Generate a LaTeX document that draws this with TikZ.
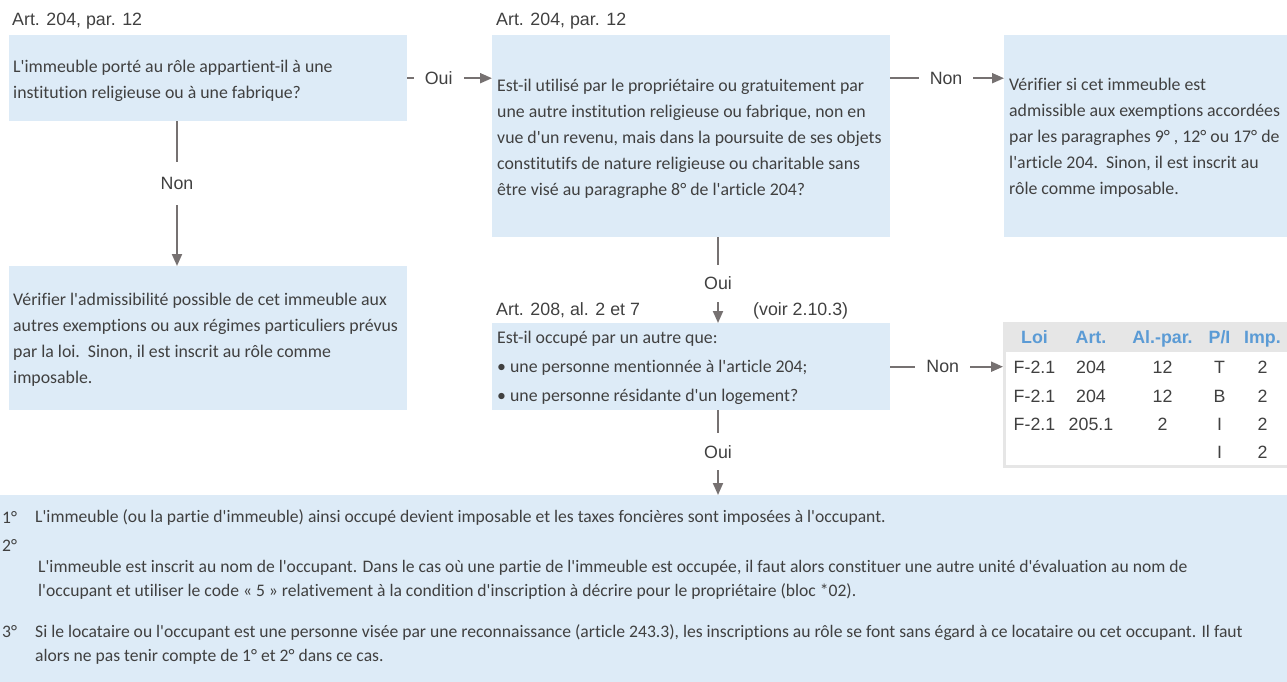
\documentclass[tikz,border=0pt]{standalone}
\usepackage{fontspec}
\setmainfont{Carlito}[Ligatures={TeXOff,NoCommon}]
\newfontfamily\arialf{Liberation Sans}
\usetikzlibrary{arrows.meta}
\definecolor{boxblue}{RGB}{221,235,247}
\definecolor{txtgray}{RGB}{64,64,64}
\definecolor{arrgray}{RGB}{118,113,113}
\definecolor{tblgray}{RGB}{230,230,230}
\definecolor{hdrblue}{RGB}{91,155,213}
\begin{document}
\begin{tikzpicture}[x=1pt,y=-1pt,
  box/.style={fill=boxblue, draw=none, inner sep=0pt, anchor=north west},
  txt/.style={anchor=west, align=left, inner sep=0pt, text=txtgray, font=\fontsize{17.8}{26}\selectfont},
  btxt/.style={anchor=west, align=left, inner sep=0pt, text=txtgray, font=\fontsize{17.6}{24}\selectfont},
  lbl/.style={anchor=base west, inner sep=0pt, text=txtgray, font=\arialf\fontsize{17.8}{20}\selectfont},
  gap/.style={fill=white, text=txtgray, font=\arialf\fontsize{17.8}{20}\selectfont, inner xsep=11pt, inner ysep=12pt},
  cn/.style={draw=arrgray, line width=2pt},
  arr/.style={cn, -{Triangle[length=12pt,width=10pt]}},
  tcell/.style={anchor=base, inner sep=0pt, text=txtgray, font=\arialf\fontsize{17.8}{20}\selectfont},
  thead/.style={anchor=base, inner sep=0pt, text=hdrblue, font=\arialf\bfseries\fontsize{17.8}{20}\selectfont}
]
\useasboundingbox (0,0) rectangle (1287,682);

% boxes
\node[box, minimum width=398pt, minimum height=86pt] (b1) at (9,35) {};
\node[box, minimum width=398pt, minimum height=202pt] (b2) at (492,35) {};
\node[box, minimum width=283pt, minimum height=202pt] (b3) at (1004,35) {};
\node[box, minimum width=398pt, minimum height=144pt] (b4) at (9,266) {};
\node[box, minimum width=398pt, minimum height=87pt] (b5) at (492,323) {};
\node[box, minimum width=1287pt, minimum height=187pt] (b6) at (0,495) {};

% table frame
\node[anchor=north west, fill=tblgray, inner sep=0pt, minimum width=284pt, minimum height=146pt] (tbl) at (1003,322) {};
\fill[white] (1006,352) rectangle (1287,465);

% labels above boxes
\node[lbl] (l1) at (12,26) {Art. 204, par. 12};
\node[lbl] (l2) at (496,26) {Art. 204, par. 12};
\node[lbl] (l3) at (496,315) {Art. 208, al. 2 et 7};
\node[lbl] (l4) at (753,315) {(voir 2.10.3)};

% box texts
\node[txt] (t1) at ([xshift=4pt,yshift=-3pt]b1.west) {L'immeuble porté au rôle appartient-il à une\\institution religieuse ou à une fabrique?};
\node[txt] (t2) at ([xshift=5pt,yshift=-3pt]b2.west) {Est-il utilisé par le propriétaire ou gratuitement par\\une autre institution religieuse ou fabrique, non en\\vue d'un revenu, mais dans la poursuite de ses objets\\constitutifs de nature religieuse ou charitable sans\\être visé au paragraphe 8° de l'article 204?};
\node[txt] (t3) at ([xshift=5pt,yshift=-2pt]b3.west) {Vérifier si cet immeuble est\\admissible aux exemptions accordées\\par les paragraphes 9° , 12° ou 17° de\\l'article 204.\ \ Sinon, il est inscrit au\\rôle comme imposable.};
\node[txt] (t4) at ([xshift=4pt,yshift=-2pt]b4.west) {Vérifier l'admissibilité possible de cet immeuble aux\\autres exemptions ou aux régimes particuliers prévus\\par la loi.\ \ Sinon, il est inscrit au rôle comme\\imposable.};
\node[txt, font=\fontsize{17.8}{29}\selectfont] (t5) at ([xshift=5pt,yshift=-1pt]b5.west) {Est-il occupé par un autre que:\\• une personne mentionnée à l'article 204;\\• une personne résidante d'un logement?};

% bottom box texts
\node[btxt] (n1) at (2,517) {1°};
\node[btxt] (p1) at (35,517) {L'immeuble (ou la partie d'immeuble) ainsi occupé devient imposable et les taxes foncières sont imposées à l'occupant.};
\node[btxt] (n2) at (2,545) {2°};
\node[btxt] (p2) at (38,580) {L'immeuble est inscrit au nom de l'occupant. Dans le cas où une partie de l'immeuble est occupée, il faut alors constituer une autre unité d'évaluation au nom de\\l'occupant et utiliser le code « 5 » relativement à la condition d'inscription à décrire pour le propriétaire (bloc *02).};
\node[btxt] (n3) at (2,632) {3°};
\node[btxt] (p3) at (35,644) {Si le locataire ou l'occupant est une personne visée par une reconnaissance (article 243.3), les inscriptions au rôle se font sans égard à ce locataire ou cet occupant. Il faut\\alors ne pas tenir compte de 1° et 2° dans ce cas.};

% table texts
\node[thead] (h1) at (1034.5,343) {Loi};
\node[thead] (h2) at (1091,343) {Art.};
\node[thead] (h3) at (1162.5,343) {Al.-par.};
\node[thead] (h4) at (1219.5,343) {P/I};
\node[thead] (h5) at (1262.5,343) {Imp.};
\node[tcell] (r11) at (1034.5,373) {F-2.1};
\node[tcell] (r12) at (1091,373) {204};
\node[tcell] (r13) at (1162.5,373) {12};
\node[tcell] (r14) at (1219.5,373) {T};
\node[tcell] (r15) at (1262.5,373) {2};
\node[tcell] (r21) at (1034.5,402) {F-2.1};
\node[tcell] (r22) at (1091,402) {204};
\node[tcell] (r23) at (1162.5,402) {12};
\node[tcell] (r24) at (1219.5,402) {B};
\node[tcell] (r25) at (1262.5,402) {2};
\node[tcell] (r31) at (1034.5,430) {F-2.1};
\node[tcell] (r32) at (1091,430) {205.1};
\node[tcell] (r33) at (1162.5,430) {2};
\node[tcell] (r34) at (1219.5,430) {I};
\node[tcell] (r35) at (1262.5,430) {2};
\node[tcell] (r44) at (1219.5,458) {I};
\node[tcell] (r45) at (1262.5,458) {2};

% connectors
\draw[arr] (b1.east) -- node[gap, pos=0.37] {Oui} (b1.east -| b2.west);
\draw[arr] (b1.east -| b2.east) -- node[gap, pos=0.49] {Non} (b1.east -| b3.west);
\draw[arr] ([xshift=168pt]b1.south west) -- node[gap, pos=0.43, inner ysep=15pt] {Non} ([xshift=168pt]b4.north west);
\draw[arr] ([xshift=226pt]b2.south west) -- node[gap, pos=0.54] {Oui} ([xshift=226pt]b5.north west);
\draw[arr] (b5.east) -- node[gap, pos=0.465] {Non} (b5.east -| tbl.west);
\draw[arr] ([xshift=226pt]b5.south west) -- node[gap, pos=0.49] {Oui} ([xshift=226pt]b5.south west |- b6.north);
\end{tikzpicture}
\end{document}
